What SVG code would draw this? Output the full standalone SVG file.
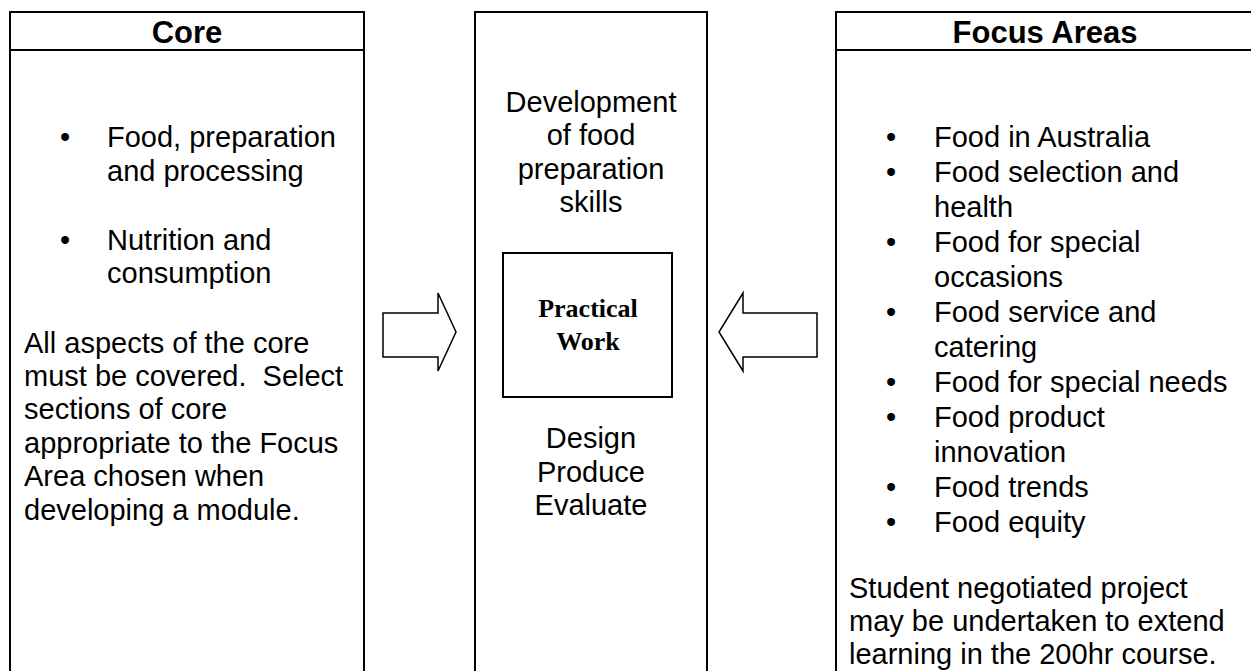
<svg xmlns="http://www.w3.org/2000/svg" width="1251" height="671" viewBox="0 0 1251 671">
<style>
.box{fill:#fff;stroke:#000;stroke-width:2}
.arr{fill:#fff;stroke:#000;stroke-width:1.5;stroke-linejoin:miter}
.hd{font-family:"Liberation Sans",Arial,sans-serif;font-weight:bold;font-size:31px;fill:#000;text-anchor:middle}
.t{font-family:"Liberation Sans",Arial,sans-serif;font-size:29px;fill:#000}
.c{text-anchor:middle}
.pw{font-family:"Liberation Serif","Times New Roman",serif;font-weight:bold;font-size:26px;fill:#000;text-anchor:middle}
</style>
<rect width="1251" height="671" fill="#fff"/>
<g id="core">
<rect class="box" x="10" y="12" width="354" height="680"/>
<line x1="10" y1="50" x2="364" y2="50" stroke="#000" stroke-width="2"/>
<text class="hd" x="187" y="43">Core</text>
<text class="t c" x="65" y="147">•</text>
<text class="t" x="107" y="147">Food, preparation</text>
<text class="t" x="107" y="181">and processing</text>
<text class="t c" x="65" y="250">•</text>
<text class="t" x="107" y="250">Nutrition and</text>
<text class="t" x="107" y="283">consumption</text>
<text class="t" x="24" y="353">All aspects of the core</text>
<text class="t" x="24" y="386" xml:space="preserve" style="white-space:pre">must be covered.  Select</text>
<text class="t" x="24" y="419">sections of core</text>
<text class="t" x="24" y="453">appropriate to the Focus</text>
<text class="t" x="24" y="486">Area chosen when</text>
<text class="t" x="24" y="520">developing a module.</text>
</g>
<g id="practical">
<rect class="box" x="475" y="12" width="232" height="680"/>
<text class="t c" x="591" y="112">Development</text>
<text class="t c" x="591" y="145">of food</text>
<text class="t c" x="591" y="179">preparation</text>
<text class="t c" x="591" y="212">skills</text>
<rect class="box" x="503" y="253" width="169" height="144"/>
<text class="pw" x="588" y="317">Practical</text>
<text class="pw" x="588" y="350">Work</text>
<text class="t c" x="591" y="448">Design</text>
<text class="t c" x="591" y="482">Produce</text>
<text class="t c" x="591" y="515">Evaluate</text>
</g>
<g id="focus">
<rect class="box" x="836" y="12" width="424" height="680"/>
<line x1="836" y1="50" x2="1260" y2="50" stroke="#000" stroke-width="2"/>
<text class="hd" x="1045" y="43">Focus Areas</text>
<text class="t c" x="891" y="147">•</text>
<text class="t" x="934" y="147">Food in Australia</text>
<text class="t c" x="891" y="182">•</text>
<text class="t" x="934" y="182">Food selection and</text>
<text class="t" x="934" y="217">health</text>
<text class="t c" x="891" y="252">•</text>
<text class="t" x="934" y="252">Food for special</text>
<text class="t" x="934" y="287">occasions</text>
<text class="t c" x="891" y="322">•</text>
<text class="t" x="934" y="322">Food service and</text>
<text class="t" x="934" y="357">catering</text>
<text class="t c" x="891" y="392">•</text>
<text class="t" x="934" y="392">Food for special needs</text>
<text class="t c" x="891" y="427">•</text>
<text class="t" x="934" y="427">Food product</text>
<text class="t" x="934" y="462">innovation</text>
<text class="t c" x="891" y="497">•</text>
<text class="t" x="934" y="497">Food trends</text>
<text class="t c" x="891" y="532">•</text>
<text class="t" x="934" y="532">Food equity</text>
<text class="t" x="849" y="598">Student negotiated project</text>
<text class="t" x="849" y="631">may be undertaken to extend</text>
<text class="t" x="849" y="664">learning in the 200hr course.</text>
</g>
<g id="connectors">
<polygon class="arr" points="383,313 438,313 438,293 456,332 438,371 438,357 383,357"/>
<polygon class="arr" points="817,313 743,313 743,293 719,332 743,371 743,357 817,357"/>
</g>
</svg>
